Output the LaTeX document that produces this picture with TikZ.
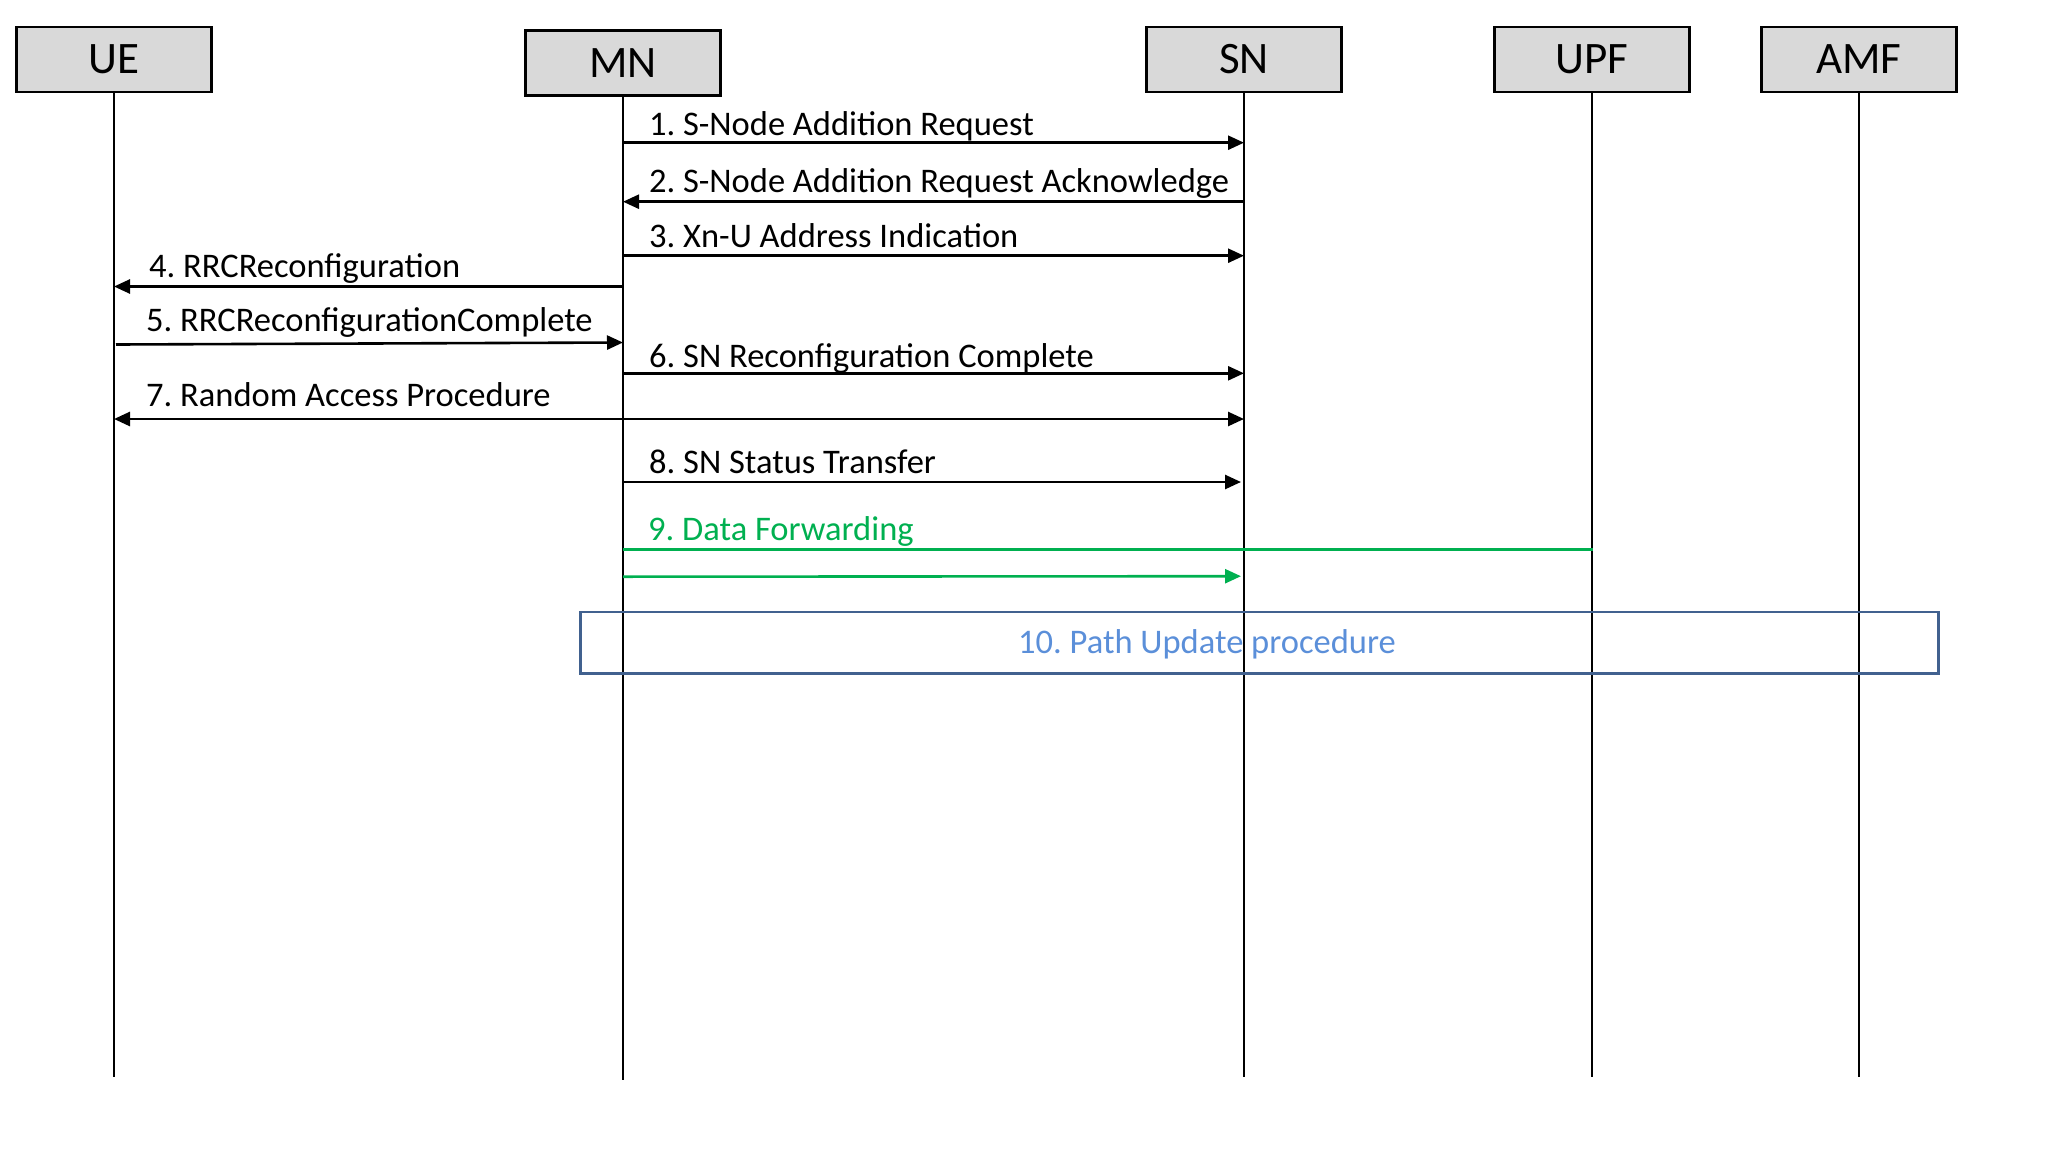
\documentclass[tikz,border=0pt]{standalone}
\usepackage{fontspec}
\setmainfont{Carlito}
\usetikzlibrary{arrows.meta}
\definecolor{boxgray}{HTML}{D9D9D9}
\definecolor{dfgreen}{HTML}{00B050}
\definecolor{pathblue}{HTML}{41618F}
\definecolor{pathtext}{HTML}{5B8FD9}
\frenchspacing
\begin{document}
\begin{tikzpicture}[x=1pt,y=-1pt,
  entity/.style={draw=black,line width=2.6pt,fill=boxgray,minimum width=195pt,minimum height=65pt,inner sep=0pt,font=\fontsize{45}{52}\selectfont},
  life/.style={line width=2pt},
  msg/.style={line width=2.6pt,-{Triangle[length=16pt,width=14pt]}},
  bimsg/.style={line width=2.6pt,{Triangle[length=16pt,width=14pt]}-{Triangle[length=16pt,width=14pt]}},
  lbl/.style={anchor=base west,inner sep=0pt,font=\fontsize{34.5}{40}\selectfont}]
\useasboundingbox (0,0) rectangle (2048,1154);
% entities
\node[entity] (UE)  at (114,59.3)  {UE};
\node[entity] (MN)  at (623,63)    {MN};
\node[entity] (SN)  at (1244,59.3) {SN};
\node[entity] (UPF) at (1592,59.3) {UPF};
\node[entity] (AMF) at (1859,59.3) {AMF};
% lifeline ends
\coordinate (UEe)  at (114,1077);
\coordinate (MNe)  at (623,1080);
\coordinate (SNe)  at (1244,1077);
\coordinate (UPFe) at (1592,1077);
\coordinate (AMFe) at (1859,1077);
\draw[life] (UE.south) -- (UEe);
\draw[life] (MN.south) -- (MNe);
\draw[life] (SN.south) -- (SNe);
\draw[life] (UPF.south) -- (UPFe);
\draw[life] (AMF.south) -- (AMFe);
% message anchor points
\coordinate (mn1) at (623,142.7); \coordinate (sn1) at (1244,142.7);
\coordinate (mn2) at (623,201.7); \coordinate (sn2) at (1244,201.7);
\coordinate (mn3) at (623,255.7); \coordinate (sn3) at (1244,255.7);
\coordinate (mn4) at (623,286.5); \coordinate (ue4) at (114,286.5);
\coordinate (ue5) at (116,344.5); \coordinate (mn5) at (623,342.5);
\coordinate (mn6) at (623,373.3); \coordinate (sn6) at (1244,373.3);
\coordinate (ue7) at (114,419);   \coordinate (sn7) at (1244,419);
\coordinate (mn8) at (623,482);   \coordinate (sn8) at (1241,482);
\coordinate (mn9) at (623,549.3); \coordinate (upf9) at (1592.6,549.3);
\coordinate (mn9b) at (623,576.7); \coordinate (sn9b) at (1241,576.2);
% messages
\draw[msg] (mn1) -- (sn1);
\node[lbl] (l1) at (649,135) {1. S-Node Addition Request};
\draw[msg] (sn2) -- (mn2);
\node[lbl] (l2) at (649,192) {2. S-Node Addition Request Acknowledge};
\draw[msg] (mn3) -- (sn3);
\node[lbl] (l3) at (649,247.5) {3. Xn-U Address Indication};
\draw[msg] (mn4) -- (ue4);
\node[lbl] (l4) at (149,277) {4. RRCReconfiguration};
\draw[msg] (ue5) -- (mn5);
\node[lbl] (l5) at (146,331.7) {5. RRCReconfigurationComplete};
\draw[msg] (mn6) -- (sn6);
\node[lbl] (l6) at (649,367) {6. SN Reconfiguration Complete};
\draw[bimsg] (ue7) -- (sn7);
\node[lbl] (l7) at (146,406.7) {7. Random Access Procedure};
\draw[msg] (mn8) -- (sn8);
\node[lbl] (l8) at (649,473) {8. SN Status Transfer};
\draw[line width=2.6pt,dfgreen] (mn9) -- (upf9);
\node[lbl,text=dfgreen] (l9) at (648,540) {9. Data Forwarding};
\draw[msg,dfgreen] (mn9b) -- (sn9b);
% path update box
\node[draw=pathblue,line width=2.4pt,minimum width=1358pt,minimum height=61.6pt,inner sep=0pt] (PU) at (1259.3,642.5) {};
\node[anchor=base,inner sep=0pt,text=pathtext,font=\fontsize{34.5}{40}\selectfont] (PUt) at (1207,653) {10. Path Update procedure};
\end{tikzpicture}
\end{document}
